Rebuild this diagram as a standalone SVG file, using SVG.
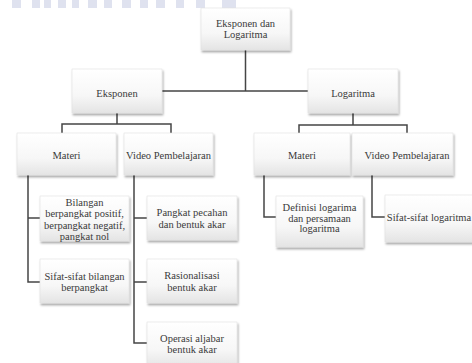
<svg xmlns="http://www.w3.org/2000/svg" width="472" height="363" viewBox="0 0 472 363">
<defs>
<linearGradient id="g" x1="0" y1="0" x2="0" y2="1">
<stop offset="0" stop-color="#ffffff"/>
<stop offset="0.6" stop-color="#f7f7f7"/>
<stop offset="1" stop-color="#e4e4e4"/>
</linearGradient>
<filter id="sh" x="-10%" y="-10%" width="125%" height="130%">
<feDropShadow dx="1" dy="2" stdDeviation="1.3" flood-color="#000" flood-opacity="0.35"/>
</filter>
<style>
.box{fill:url(#g);stroke:#e2e2e2;stroke-width:0.6;filter:url(#sh)}
.t{font-family:"Liberation Serif","Times New Roman",serif;font-size:10.5px;fill:#3a3a3a;text-anchor:middle}
.c{stroke:#454545;stroke-width:1.5;fill:none}
.wm{fill:#dfe2ef}
</style>
</defs>
<rect width="472" height="363" fill="#ffffff"/>
<g id="watermark">
<rect class="wm" x="12" y="0" width="9" height="8"/>
<rect class="wm" x="32" y="0" width="8" height="8"/>
<rect class="wm" x="44" y="0" width="7" height="8"/>
<rect class="wm" x="58" y="0" width="8" height="8"/>
<rect class="wm" x="72" y="0" width="7" height="8"/>
<rect class="wm" x="88" y="0" width="9" height="8"/>
<rect class="wm" x="104" y="0" width="8" height="8"/>
<rect class="wm" x="122" y="0" width="9" height="8"/>
<rect class="wm" x="140" y="0" width="8" height="8"/>
<rect class="wm" x="156" y="0" width="9" height="8"/>
<rect class="wm" x="176" y="0" width="8" height="8"/>
<rect class="wm" x="196" y="0" width="9" height="8"/>
<rect class="wm" x="222" y="0" width="14" height="8"/>
</g>
<g id="connectors">
<path class="c" d="M245.5 50 V91 M162 91 H308"/>
<path class="c" d="M117 113 V124 M62 133 V124 H171 V133"/>
<path class="c" d="M353 113 V125 M299 133 V125 H407 V133"/>
<path class="c" d="M28 175 V282 H40 M28 218 H40"/>
<path class="c" d="M134 175 V343 H147 M134 218 H147 M134 282 H147"/>
<path class="c" d="M264 175 V217 H276"/>
<path class="c" d="M372 175 V217 H385"/>
</g>
<g id="root">
<rect class="box" x="201" y="8" width="89" height="42"/>
<text class="t" x="245.5" y="27">Eksponen dan</text>
<text class="t" x="245.5" y="38">Logaritma</text>
</g>
<g id="eksponen">
<rect class="box" x="72" y="69" width="90" height="44"/>
<text class="t" x="117" y="96.5">Eksponen</text>
</g>
<g id="logaritma">
<rect class="box" x="308" y="69" width="90" height="44"/>
<text class="t" x="353" y="96.5">Logaritma</text>
</g>
<g id="materi1">
<rect class="box" x="17" y="133" width="99" height="42"/>
<text class="t" x="66.5" y="158.5">Materi</text>
</g>
<g id="video1">
<rect class="box" x="124" y="133" width="89" height="42"/>
<text class="t" x="168.5" y="158.5">Video Pembelajaran</text>
</g>
<g id="bilangan">
<rect class="box" x="40" y="196" width="89" height="45"/>
<text class="t" x="84.5" y="205.5">Bilangan</text>
<text class="t" x="84.5" y="217">berpangkat positif,</text>
<text class="t" x="84.5" y="228.5">berpangkat negatif,</text>
<text class="t" x="84.5" y="240">pangkat nol</text>
</g>
<g id="pangkat">
<rect class="box" x="147" y="196" width="90" height="44"/>
<text class="t" x="192" y="215.5">Pangkat pecahan</text>
<text class="t" x="192" y="227.5">dan bentuk akar</text>
</g>
<g id="sifat1">
<rect class="box" x="40" y="259" width="89" height="44"/>
<text class="t" x="84.5" y="279.5">Sifat-sifat bilangan</text>
<text class="t" x="84.5" y="290.5">berpangkat</text>
</g>
<g id="rasionalisasi">
<rect class="box" x="147" y="259" width="90" height="44"/>
<text class="t" x="192" y="279">Rasionalisasi</text>
<text class="t" x="192" y="290.5">bentuk akar</text>
</g>
<g id="operasi">
<rect class="box" x="147" y="322" width="90" height="46"/>
<text class="t" x="192" y="341.5">Operasi aljabar</text>
<text class="t" x="192" y="352.5">bentuk akar</text>
</g>
<g id="materi2">
<rect class="box" x="254" y="133" width="96" height="42"/>
<text class="t" x="302" y="158.5">Materi</text>
</g>
<g id="video2">
<rect class="box" x="352" y="133" width="101" height="42"/>
<text class="t" x="407" y="158.5">Video Pembelajaran</text>
</g>
<g id="definisi">
<rect class="box" x="276" y="196" width="87" height="51"/>
<text class="t" x="319.5" y="210.5">Definisi logarima</text>
<text class="t" x="319.5" y="221.5">dan persamaan</text>
<text class="t" x="319.5" y="232">logaritma</text>
</g>
<g id="sifat2">
<rect class="box" x="385" y="195" width="92" height="47"/>
<text class="t" x="429" y="220.5">Sifat-sifat logaritma</text>
</g>
</svg>
